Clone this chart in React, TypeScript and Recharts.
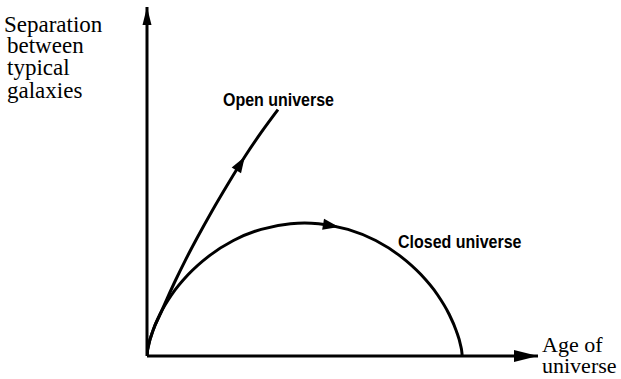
import React from 'react';
import { LineChart, Line, XAxis, YAxis, ReferenceLine, ReferenceDot } from 'recharts';

// Age of universe (x) and separation (y), arbitrary units 0..100
const closedAge = [0, 0.06, 0.45, 1.5, 3.4, 6.4, 10.6, 15.9, 22.1, 29.2, 36.7, 40.3, 43.9, 51.4, 58.5, 64.7, 70.0, 74.2, 77.2, 79.1, 80.15, 80.55, 80.6];
const closedSep = [0, 0.85, 3.3, 7.2, 12.1, 17.7, 23.4, 28.7, 33.1, 36.3, 37.9, 38.1, 37.9, 36.3, 33.1, 28.7, 23.4, 17.7, 12.1, 7.2, 3.3, 0.85, 0];
const openAge = [0, 0.06, 0.45, 1.5, 3.4, 5.2, 7.3, 9.8, 12.8, 16.6, 20.7, 25.0, 29.3, 33.5];
const openSep = [0, 0.85, 3.3, 7.2, 12.1, 16.6, 21.7, 27.4, 33.8, 41.5, 49.3, 57.1, 64.2, 70.6];

const axisMax = 100;
const closedArrowAt = { x: 46.8, y: 37.4 };
const openArrowAt = { x: 23.8, y: 54.9 };

const yLabelLines = ['Separation', 'between', 'typical', 'galaxies'];
const xLabelLines = ['Age of', 'universe'];
const openLabel = 'Open universe';
const closedLabel = 'Closed universe';

const closedData = closedAge.map((x, i) => ({ x, y: closedSep[i] }));
const openData = openAge.map((x, i) => ({ x, y: openSep[i] }));

const curveArrow = (angle: number) => (props: any) => {
  const { cx, cy } = props;
  return (
    <polygon
      points="9,0 -7,-5.5 -7,5.5"
      transform={`translate(${cx},${cy}) rotate(${angle})`}
      fill="#000"
    />
  );
};

const tipArrow = (angle: number, len: number, half: number) => (props: any) => {
  const { cx, cy } = props;
  return (
    <polygon
      points={`0,0 ${-len},${-half} ${-len},${half}`}
      transform={`translate(${cx},${cy}) rotate(${angle})`}
      fill="#000"
    />
  );
};

const serif = '"Liberation Serif", "Times New Roman", serif';
const sans = '"Liberation Sans", Arial, sans-serif';

export default function App() {
  return (
    <div style={{ position: 'absolute', left: 0, top: 0, width: 621, height: 379, background: '#fff' }}>
      <LineChart
        width={621}
        height={379}
        margin={{ top: 7, right: 83, bottom: 23, left: 147 }}
      >
        <XAxis type="number" dataKey="x" domain={[0, axisMax]} hide allowDataOverflow />
        <YAxis type="number" dataKey="y" domain={[0, axisMax]} hide allowDataOverflow />
        <ReferenceLine
          segment={[{ x: 0, y: 0 }, { x: axisMax, y: 0 }]}
          stroke="#000"
          strokeWidth={3}
        />
        <ReferenceLine
          segment={[{ x: 0, y: 0 }, { x: 0, y: axisMax }]}
          stroke="#000"
          strokeWidth={3}
        />
        <Line
          data={closedData}
          dataKey="y"
          type="monotone"
          dot={false}
          stroke="#000"
          strokeWidth={3}
          isAnimationActive={false}
        />
        <Line
          data={openData}
          dataKey="y"
          type="monotone"
          dot={false}
          stroke="#000"
          strokeWidth={3}
          isAnimationActive={false}
        />
        <ReferenceDot x={axisMax} y={0} r={1} shape={tipArrow(0, 24, 6)} />
        <ReferenceDot x={0} y={axisMax} r={1} shape={tipArrow(-90, 18, 4.5)} />
        <ReferenceDot x={closedArrowAt.x} y={closedArrowAt.y} r={1} shape={curveArrow(10)} />
        <ReferenceDot x={openArrowAt.x} y={openArrowAt.y} r={1} shape={curveArrow(-58)} />
      </LineChart>
      <svg
        width={621}
        height={379}
        style={{ position: 'absolute', left: 0, top: 0, pointerEvents: 'none' }}
      >
        <g fontFamily={serif} fontSize={23} fill="#000">
          <text x={4} y={31.5}>{yLabelLines[0]}</text>
          <text x={7} y={53}>{yLabelLines[1]}</text>
          <text x={7} y={74.5}>{yLabelLines[2]}</text>
          <text x={7} y={97.5}>{yLabelLines[3]}</text>
        </g>
        <g fontFamily={serif} fontSize={22} fill="#000">
          <text x={542} y={352}>{xLabelLines[0]}</text>
          <text x={542} y={373}>{xLabelLines[1]}</text>
        </g>
        <g fontFamily={sans} fontSize={16} fontWeight="bold" fill="#000">
          <text transform="translate(223,106) scale(1,1.1)">{openLabel}</text>
          <text transform="translate(398,248) scale(1,1.1)">{closedLabel}</text>
        </g>
      </svg>
    </div>
  );
}
